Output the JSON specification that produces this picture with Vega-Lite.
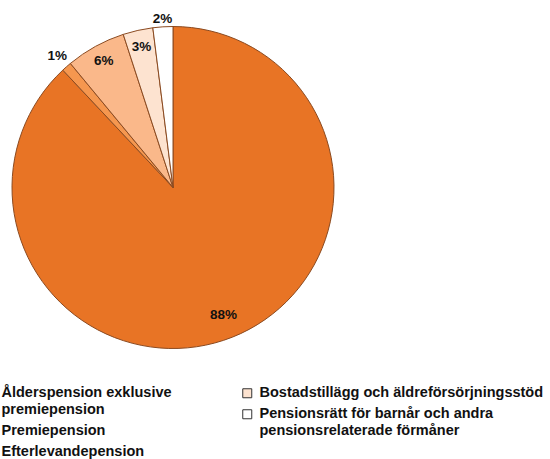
{
  "$schema": "https://vega.github.io/schema/vega-lite/v6.json",
  "width": 346,
  "height": 375,
  "autosize": {"type": "none"},
  "padding": {"left": 0, "top": 0, "right": 204, "bottom": 84},
  "background": "white",
  "config": {"view": {"stroke": null}, "style": {"guide-label": {"lineHeight": 17}}},
  "data": {"values": [
    {"idx": 1, "cat": "Ålderspension exklusive|premiepension", "value": 88, "label": "88%"},
    {"idx": 2, "cat": "Premiepension", "value": 1, "label": "1%"},
    {"idx": 3, "cat": "Efterlevandepension", "value": 6, "label": "6%"},
    {"idx": 4, "cat": "Bostadstillägg och äldreförsörjningsstöd", "value": 3, "label": "3%"},
    {"idx": 5, "cat": "Pensionsrätt för barnår och andra|pensionsrelaterade förmåner", "value": 2, "label": "2%"}
  ]},
  "layer": [
    {
      "mark": {"type": "arc", "outerRadius": 161, "stroke": "#8B4A20", "strokeWidth": 1},
      "encoding": {
        "theta": {"field": "value", "type": "quantitative", "stack": true},
        "order": {"field": "idx", "type": "ordinal"},
        "color": {"field": "cat", "type": "nominal", "legend": null,
          "scale": {"domain": ["Ålderspension exklusive|premiepension", "Premiepension", "Efterlevandepension", "Bostadstillägg och äldreförsörjningsstöd", "Pensionsrätt för barnår och andra|pensionsrelaterade förmåner"],
                    "range": ["#E87425", "#F5974F", "#FAB88A", "#FDE3D0", "#FFFFFF"]}}
      }
    },
    {
      "mark": {"type": "text", "font": "Liberation Sans", "fontWeight": "bold", "fontSize": 13.5, "color": "#111",
               "radius": {"expr": "datum.value == 1 ? 175 : (datum.value == 2 ? 169 : (datum.value > 50 ? 137 : 144))"}},
      "encoding": {
        "theta": {"field": "value", "type": "quantitative", "stack": true},
        "order": {"field": "idx", "type": "ordinal"},
        "text": {"field": "label"}
      }
    },
    {
      "transform": [{"filter": "datum.idx <= 3"}],
      "mark": {"type": "arc", "opacity": 0, "outerRadius": 1},
      "encoding": {
        "theta": {"field": "value", "type": "quantitative", "stack": true},
        "order": {"field": "idx", "type": "ordinal"},
        "fill": {"field": "cat", "type": "nominal",
          "scale": {"domain": ["Ålderspension exklusive|premiepension", "Premiepension", "Efterlevandepension"], "range": ["#E87425", "#F5974F", "#FAB88A"]},
          "legend": {"title": null, "orient": "none", "legendX": -18, "legendY": 386, "symbolType": "square", "symbolSize": 81, "symbolOpacity": 1,
                     "symbolStrokeColor": "#333", "symbolStrokeWidth": 1, "labelFont": "Liberation Sans", "labelFontWeight": "bold", "labelFontSize": 14.5,
                     "labelColor": "#111", "labelLimit": 400, "rowPadding": 6, "labelOffset": 5, "labelExpr": "split(datum.label, '|')"}}
      }
    },
    {
      "transform": [{"filter": "datum.idx > 3"}],
      "mark": {"type": "arc", "opacity": 0, "outerRadius": 1},
      "encoding": {
        "theta": {"field": "value", "type": "quantitative", "stack": true},
        "order": {"field": "idx", "type": "ordinal"},
        "fill": {"field": "cat", "type": "nominal",
          "scale": {"domain": ["Bostadstillägg och äldreförsörjningsstöd", "Pensionsrätt för barnår och andra|pensionsrelaterade förmåner"], "range": ["#FDE3D0", "#FFFFFF"]},
          "legend": {"title": null, "orient": "none", "legendX": 240, "legendY": 386, "symbolType": "square", "symbolSize": 81, "symbolOpacity": 1,
                     "symbolStrokeColor": "#333", "symbolStrokeWidth": 1, "labelFont": "Liberation Sans", "labelFontWeight": "bold", "labelFontSize": 14.5,
                     "labelColor": "#111", "labelLimit": 400, "rowPadding": 6, "labelOffset": 5, "labelExpr": "split(datum.label, '|')"}}
      }
    }
  ],
  "resolve": {"scale": {"color": "independent", "fill": "independent"}, "legend": {"color": "independent", "fill": "independent"}}
}
